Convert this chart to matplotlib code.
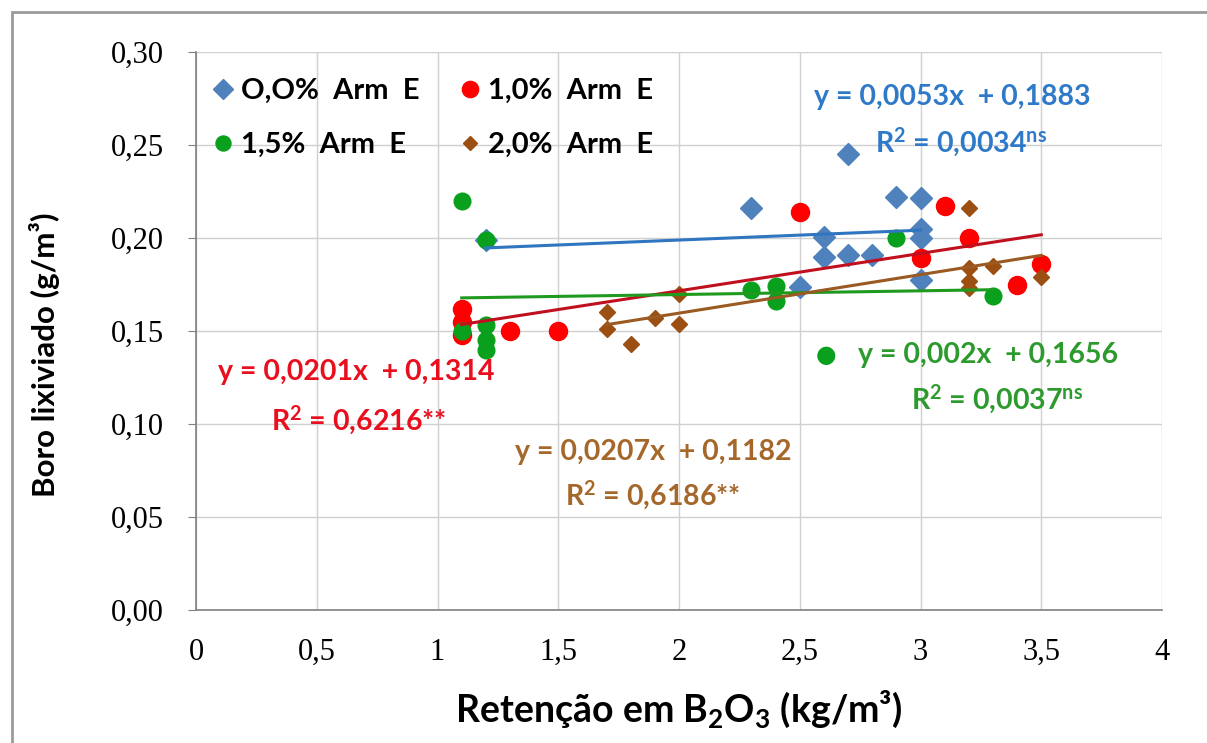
import matplotlib

matplotlib.use("Agg")
import matplotlib.pyplot as plt  # noqa: E402
from matplotlib.patches import Rectangle  # noqa: E402

# series: retention (x) and leached boron (y)
blue_x = [1.2, 2.3, 2.7, 2.9, 3.0, 2.6, 2.6, 2.7, 2.8, 3.0, 3.0, 3.0, 2.5]
blue_y = [0.199, 0.216, 0.245, 0.222, 0.2215, 0.2005, 0.190, 0.191, 0.191, 0.205, 0.200, 0.1774, 0.1737]
red_x = [1.1, 1.1, 1.1, 1.3, 1.5, 2.5, 3.1, 3.0, 3.2, 3.4, 3.5]
red_y = [0.162, 0.155, 0.148, 0.150, 0.150, 0.214, 0.217, 0.189, 0.200, 0.175, 0.186]
green_x = [1.1, 1.2, 1.1, 1.2, 1.2, 1.2, 2.3, 2.4, 2.4, 2.9, 3.3]
green_y = [0.220, 0.199, 0.150, 0.153, 0.145, 0.140, 0.172, 0.174, 0.166, 0.200, 0.169]
brown_x = [1.7, 1.7, 1.8, 1.9, 2.0, 2.0, 3.2, 3.2, 3.3, 3.2, 3.2, 3.5]
brown_y = [0.160, 0.151, 0.143, 0.157, 0.170, 0.154, 0.216, 0.184, 0.185, 0.177, 0.173, 0.179]

labels = ["O,O%  Arm  E", "1,0%  Arm  E", "1,5%  Arm  E", "2,0%  Arm  E"]
slopes = [0.0053, 0.0201, 0.002, 0.0207]
intercepts = [0.1883, 0.1314, 0.1656, 0.1182]
eq_texts = ["y = 0,0053x  + 0,1883", "y = 0,0201x  + 0,1314", "y = 0,002x  + 0,1656", "y = 0,0207x  + 0,1182"]
r2_texts = [r"R$^{\mathbf{2}}$ = 0,0034$^{\mathrm{ns}}$", r"R$^{\mathbf{2}}$ = 0,6216**",
            r"R$^{\mathbf{2}}$ = 0,0037$^{\mathrm{ns}}$", r"R$^{\mathbf{2}}$ = 0,6186**"]
y_ticks = [0.0, 0.05, 0.10, 0.15, 0.20, 0.25, 0.30]
x_ticks = [0, 0.5, 1, 1.5, 2, 2.5, 3, 3.5, 4]

plt.rcParams["mathtext.fontset"] = "custom"
plt.rcParams["mathtext.rm"] = "Lato:bold"
plt.rcParams["mathtext.bf"] = "Lato:bold"
plt.rcParams["mathtext.it"] = "Lato:bold"

fig = plt.figure(figsize=(12.07, 7.43), dpi=100)
fig.patches.append(Rectangle((12 / 1207, -0.02), 1.2, 1 - 12 / 743 + 0.02, transform=fig.transFigure,
                             fill=False, edgecolor="#9a9a9a", linewidth=2.0))
ax = fig.add_axes([196 / 1207, 1 - 610 / 743, 966 / 1207, 558 / 743])

series = [
    (blue_x, blue_y, "D", 11.5, "#4f81bd", "#2f75c0", "#2f7ac8"),
    (red_x, red_y, "o", 13, "#ff0000", "#c0101e", "#e8101e"),
    (green_x, green_y, "o", 12, "#08a01c", "#1f9a1f", "#2c9a2c"),
    (brown_x, brown_y, "D", 8, "#9c4f12", "#9a5a22", "#a5672a"),
]
handles = []
for (xs, ys, mk, ms, col, lcol, tcol), lab, a, b in zip(series, labels, slopes, intercepts):
    h, = ax.plot(xs, ys, linestyle="none", marker=mk, markersize=ms, color=col, label=lab, zorder=3)
    handles.append(h)
    x0, x1 = min(xs), max(xs)
    ax.plot([x0, x1], [a * x0 + b, a * x1 + b], color=lcol, linewidth=2.2, zorder=4)

txt = dict(fontsize=20.5, fontweight="bold", family="Lato")
ax.text(2.56, 0.2758, eq_texts[0], color=series[0][6], va="center", ha="left", **txt)
ax.text(2.81, 0.2516, r2_texts[0], color=series[0][6], va="center", ha="left", **txt)
ax.text(0.09, 0.128, eq_texts[1], color=series[1][6], va="center", ha="left", **txt)
ax.text(0.31, 0.102, r2_texts[1], color=series[1][6], va="center", ha="left", **txt)
ax.text(2.61, 0.137, "\u25cf", color=series[2][4], va="center", ha="center", fontsize=17)
ax.text(2.74, 0.137, eq_texts[2], color=series[2][6], va="center", ha="left", **txt)
ax.text(2.96, 0.113, r2_texts[2], color=series[2][6], va="center", ha="left", **txt)
ax.text(1.32, 0.085, eq_texts[3], color=series[3][6], va="center", ha="left", **txt)
ax.text(1.53, 0.0618, r2_texts[3], color=series[3][6], va="center", ha="left", **txt)

leg = ax.legend([handles[0], handles[2], handles[1], handles[3]],
                [labels[0], labels[2], labels[1], labels[3]],
                ncol=2, loc="upper left", bbox_to_anchor=(-0.008, 1.0), frameon=False,
                markerscale=0.9, handlelength=0.6, handletextpad=0.3, columnspacing=1.45,
                labelspacing=0.95, prop={"family": "Lato", "weight": "bold", "size": 21})

ax.set_xlim(0, 4)
ax.set_ylim(0, 0.30)
ax.set_xticks(x_ticks)
ax.set_yticks(y_ticks)
ax.set_xticklabels([f"{v:g}".replace(".", ",") for v in x_ticks], family="Liberation Serif", fontsize=22)
ax.set_yticklabels([f"{v:.2f}".replace(".", ",") for v in y_ticks], family="Liberation Serif", fontsize=22)
ax.grid(True, color="#d0d0d0", linewidth=1.0)
ax.set_axisbelow(True)
for side in ("top", "right"):
    ax.spines[side].set_visible(False)
for side in ("left", "bottom"):
    ax.spines[side].set_color("#808080")
    ax.spines[side].set_linewidth(1.2)
ax.tick_params(axis="y", direction="out", length=6, color="#808080", pad=17)
ax.tick_params(axis="x", length=0, pad=20)

ax.set_ylabel("Boro lixiviado (g/m\u00b3)", family="Lato", fontweight="bold", fontsize=22.5)
ax.yaxis.set_label_coords(-0.141, 0.457)
ax.set_xlabel(r"Retenção em B$_{\mathbf{2}}$O$_{\mathbf{3}}$ (kg/m³)", family="Lato", fontweight="bold",
              fontsize=27, labelpad=16)

fig.savefig("out.png", dpi=100)
